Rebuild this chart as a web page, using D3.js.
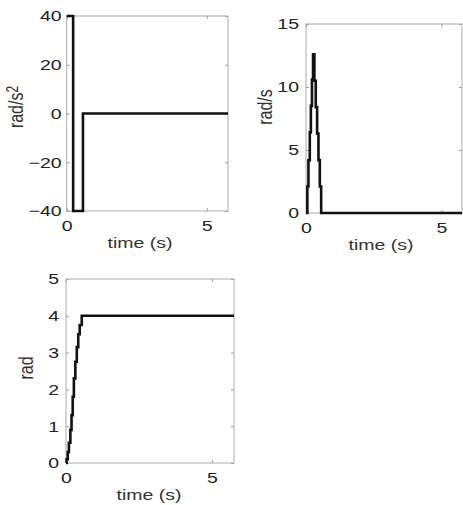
<!DOCTYPE html>
<html><head><meta charset="utf-8">
<script src="https://cdn.jsdelivr.net/npm/d3@7"></script>
<style>body{margin:0;background:#fff}svg{display:block}</style>
</head><body>
<svg id="c" width="463" height="505"></svg>
<script>
// ---- data ----
const accTime = [0, 0.23, 0.58, 5.76];
const accValues = [40, -40, 0, 0];
const velTime = [0, 0.05, 0.09, 0.14, 0.18, 0.22, 0.26, 0.31, 0.36, 0.41, 0.46, 0.51, 0.56, 5.76];
const velValues = [0, 2.1, 4.2, 6.4, 8.5, 10.6, 12.6, 10.5, 8.4, 6.3, 4.2, 2.1, 0, 0];
const posTime = [0, 0.02, 0.06, 0.10, 0.15, 0.19, 0.23, 0.27, 0.32, 0.37, 0.42, 0.47, 0.54, 5.76];
const posValues = [0, 0.1, 0.3, 0.55, 0.9, 1.3, 1.8, 2.3, 2.75, 3.15, 3.5, 3.75, 4.0, 4.0];
const xTicks = [0, 5];
const accTicks = [-40, -20, 0, 20, 40];
const velTicks = [0, 5, 10, 15];
const posTicks = [0, 1, 2, 3, 4, 5];
const xLabel = "time (s)";

const svg = d3.select("#c");
const SX = 1.3;
const FONT = "'Liberation Sans', Arial, Helvetica, sans-serif";

function panel(o) {
  const x = d3.scaleLinear().domain([0, 5.76]).range([o.left, o.right]);
  const y = d3.scaleLinear().domain(o.yDomain).range([o.bottom, o.top]);
  const g = svg.append("g");

  const ax = [
    [d3.axisLeft(y).tickValues(o.yTicks).tickFormat(d3.format("d")), `translate(${o.left},0)`, "left"],
    [d3.axisRight(y).tickValues(o.yTicks).tickFormat(""), `translate(${o.right},0)`, "right"],
    [d3.axisBottom(x).tickValues(xTicks).tickFormat(d3.format("d")), `translate(0,${o.bottom})`, "bottom"],
    [d3.axisTop(x).tickValues(xTicks).tickFormat(""), `translate(0,${o.top})`, "top"]
  ];
  ax.forEach(([a, tr, side]) => {
    const ag = g.append("g").attr("transform", tr)
      .call(a.tickSizeInner(-3).tickSizeOuter(0).tickPadding(0));
    ag.select(".domain").remove();
    ag.selectAll(".tick line").attr("stroke", "#999");
    ag.selectAll(".tick text")
      .attr("fill", "#222")
      .attr("font-family", FONT)
      .attr("font-size", 15);
    if (side === "left") {
      ag.selectAll(".tick text").attr("x", 0)
        .attr("transform", `translate(${-o.yGap},0) scale(${SX},1)`);
    }
    if (side === "bottom") {
      ag.selectAll(".tick text").attr("y", 0)
        .attr("transform", `translate(0,${o.xGap}) scale(${SX},1)`);
    }
  });

  g.append("rect")
    .attr("x", o.left).attr("y", o.top)
    .attr("width", o.right - o.left).attr("height", o.bottom - o.top)
    .attr("fill", "none").attr("stroke", "#aaa").attr("stroke-width", 1);

  const pts = o.t.map((t, i) => [t, o.v[i]]);
  g.append("path")
    .datum(pts)
    .attr("d", d3.line().x(d => x(d[0])).y(d => y(d[1])).curve(o.curve))
    .attr("fill", "none").attr("stroke", "#111").attr("stroke-width", 2.6)
    .attr("stroke-linejoin", "miter");

  g.append("text")
    .attr("transform", `translate(${o.xlx},${o.xly}) scale(${SX},1)`)
    .attr("text-anchor", "middle")
    .attr("font-family", FONT).attr("font-size", 15).attr("fill", "#333")
    .text(xLabel);

  const yl = g.append("text")
    .attr("transform", `translate(${o.ylx},${o.yly}) scale(${SX},1) rotate(-90)`)
    .attr("text-anchor", "middle")
    .attr("font-family", FONT).attr("font-size", 16).attr("fill", "#333");
  yl.append("tspan").text(o.yLabel);
  if (o.sup) {
    yl.append("tspan").attr("dy", "-0.35em").attr("font-size", 12).text(o.sup);
  }
}

panel({left: 66.7, right: 228, top: 16, bottom: 211, yDomain: [-40, 40], yTicks: accTicks,
  t: accTime, v: accValues, curve: d3.curveStepAfter, yGap: 5, xGap: 9,
  xlx: 140, xly: 248, ylx: 23, yly: 107, yLabel: "rad/s", sup: "2"});
panel({left: 306, right: 462, top: 24, bottom: 213, yDomain: [0, 15], yTicks: velTicks,
  t: velTime, v: velValues, curve: d3.curveStepAfter, yGap: 7, xGap: 9,
  xlx: 381, xly: 250, ylx: 272, yly: 107, yLabel: "rad/s"});
panel({left: 66, right: 234, top: 279, bottom: 463, yDomain: [0, 5], yTicks: posTicks,
  t: posTime, v: posValues, curve: d3.curveStepAfter, yGap: 7, xGap: 9,
  xlx: 149, xly: 500, ylx: 33, yly: 368, yLabel: "rad"});
</script>
</body></html>
